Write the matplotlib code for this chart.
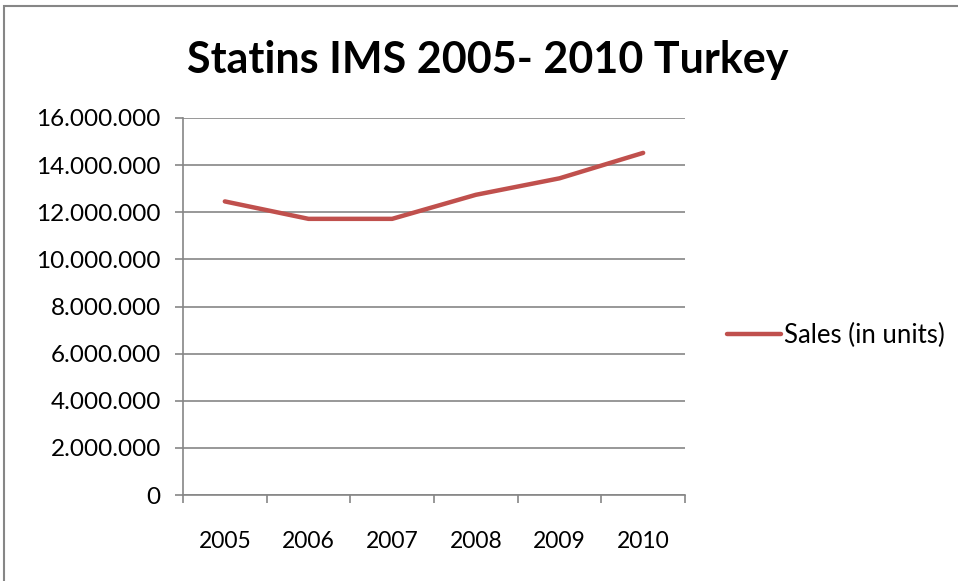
import matplotlib
matplotlib.use("Agg")
import matplotlib.pyplot as plt
from matplotlib.patches import Rectangle
from matplotlib.ticker import FuncFormatter, MultipleLocator, FixedLocator

# data
years = ["2005", "2006", "2007", "2008", "2009", "2010"]
sales = [12_460_000, 11_720_000, 11_720_000, 12_740_000, 13_440_000, 14_520_000]

plt.rcParams["font.family"] = ["Lato", "DejaVu Sans"]

GRAY = "#868686"
RED = "#C0504D"

fig = plt.figure(figsize=(9.58, 5.81), dpi=100)
fig.patches.append(Rectangle((4 / 958, -0.1), 1.2, 1 - 6 / 581 + 0.1,
                             transform=fig.transFigure, fill=False,
                             edgecolor=GRAY, linewidth=1.5))

ax = fig.add_axes([183 / 958, 1 - 495 / 581, (685 - 183) / 958, (495 - 118) / 581])
x = [i + 0.5 for i in range(len(years))]
ax.plot(x, sales, color=RED, linewidth=3.2, solid_capstyle="round",
        solid_joinstyle="round", label="Sales (in units)")

ax.set_xlim(0, len(years))
ax.set_ylim(0, 16_000_000)
ax.yaxis.set_major_locator(MultipleLocator(2_000_000))
ax.yaxis.set_major_formatter(FuncFormatter(lambda v, p: f"{int(v):,}".replace(",", ".")))
ax.xaxis.set_major_locator(FixedLocator(range(len(years) + 1)))
ax.xaxis.set_major_formatter(FuncFormatter(lambda v, p: ""))
ax.xaxis.set_minor_locator(FixedLocator(x))
ax.set_xticklabels(years, minor=True)
ax.tick_params(axis="x", which="minor", length=0, pad=26, labelsize=16.5)
ax.tick_params(axis="x", which="major", length=6, color=GRAY, width=1.2)
ax.tick_params(axis="y", length=6, color=GRAY, width=1.2, labelsize=17.5, pad=10)

ax.grid(axis="y", color=GRAY, linewidth=1.2)
ax.set_axisbelow(True)
for s in ("top", "right"):
    ax.spines[s].set_visible(False)
for s in ("left", "bottom"):
    ax.spines[s].set_color(GRAY)
    ax.spines[s].set_linewidth(1.2)

fig.text(488 / 958, 1 - 60 / 581, "Statins IMS 2005- 2010 Turkey",
         ha="center", va="center", fontsize=31, fontweight="bold")

fig.legend(loc="center left", bbox_to_anchor=(727 / 958, 1 - 335 / 581),
           frameon=False, fontsize=18.5, handlelength=2.1, handletextpad=0.1,
           borderpad=0, borderaxespad=0)

fig.savefig("out.png", dpi=100)
